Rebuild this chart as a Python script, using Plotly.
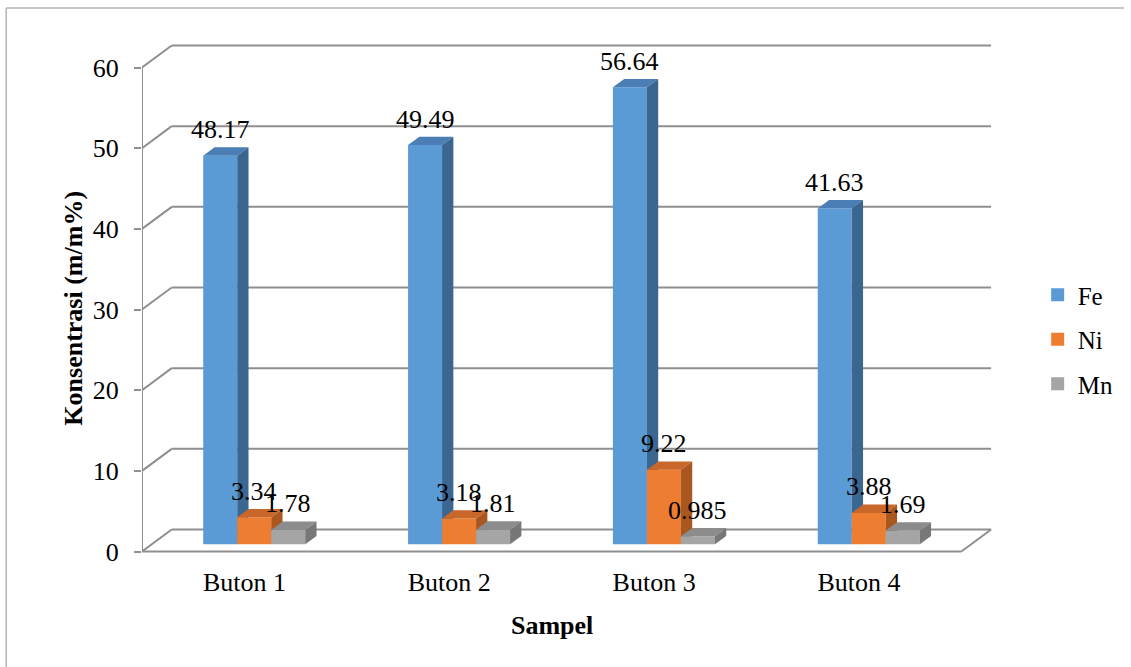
import plotly.graph_objects as go

# ---- data ----
categories = ["Buton 1", "Buton 2", "Buton 3", "Buton 4"]
fe = [48.17, 49.49, 56.64, 41.63]
ni = [3.34, 3.18, 9.22, 3.88]
mn = [1.78, 1.81, 0.985, 1.69]
series_names = ["Fe", "Ni", "Mn"]
y_ticks = [0, 10, 20, 30, 40, 50, 60]

# face colours per series: front, top, side
front_colors = ["#5b9bd5", "#ed7d31", "#a5a5a5"]
top_colors = ["#4a7eb4", "#c9672a", "#8c8c8c"]
side_colors = ["#3b6690", "#a9561f", "#777777"]

# ---- page / plot geometry (pixels) ----
W, H = 1131, 667
L, R, T, B = 142, 1010, 30, 560
Y0_PX, YTOP_PX = 551.5, 67.5          # where 0 and 60 sit on the front axis
py = (Y0_PX - YTOP_PX) / 60.0          # px per value unit
px = (969 - 142) / 4.0                 # px per category
x0 = -0.5
x1 = x0 + len(categories)
ymin = -(B - Y0_PX) / py
ymax = (Y0_PX - T) / py
xmax = x0 + (R - L) / px

# oblique depth of the walls, in data units
DX = 30.0 / px
DY = 22.0 / py
F0 = 0.33      # depth fraction of bar front plane
FD = 0.38      # depth fraction of bar thickness
BW = 0.166     # bar width (category units)

LINE = "#8f8f8f"
FONT = "Liberation Serif, Times New Roman, serif"

fig = go.Figure()

values = [fe, ni, mn]
for k, vals in enumerate(values):
    fx, fy, tx, ty, sx, sy = [], [], [], [], [], []
    for i, v in enumerate(vals):
        xl = i + F0 * DX + (k - 1.5) * BW
        xr = xl + BW
        yb = F0 * DY
        yt = yb + v
        ddx, ddy = FD * DX, FD * DY
        fx += [xl, xr, xr, xl, xl, None]
        fy += [yb, yb, yt, yt, yb, None]
        tx += [xl, xr, xr + ddx, xl + ddx, xl, None]
        ty += [yt, yt, yt + ddy, yt + ddy, yt, None]
        sx += [xr, xr + ddx, xr + ddx, xr, xr, None]
        sy += [yb, yb + ddy, yt + ddy, yt, yb, None]
    for xs, ys, col in ((fx, fy, front_colors[k]), (tx, ty, top_colors[k]), (sx, sy, side_colors[k])):
        fig.add_trace(go.Scatter(
            x=xs, y=ys, mode="lines", fill="toself", fillcolor=col,
            line=dict(width=0, color=col), hoverinfo="skip", showlegend=False))

# legend entries
for k, name in enumerate(series_names):
    fig.add_trace(go.Scatter(
        x=[None], y=[None], mode="markers", name=name, legendgroup=name,
        marker=dict(symbol="square", size=13, color=front_colors[k])))

# value labels
annotations = []
for k, vals in enumerate(values):
    for i, v in enumerate(vals):
        annotations.append(dict(
            x=i + F0 * DX + (k - 1) * BW, y=F0 * DY + v, xref="x", yref="y",
            text=f"{v:g}", showarrow=False, yshift=26,
            font=dict(family=FONT, size=26, color="black")))

# axis titles
annotations.append(dict(
    x=(72 - L) / (R - L), y=(B - 308) / (B - T), xref="paper", yref="paper",
    text="<b>Konsentrasi (m/m%)</b>", textangle=-90, showarrow=False,
    xanchor="center", yanchor="middle", font=dict(family=FONT, size=26, color="black")))
annotations.append(dict(
    x=(556 - L) / (R - L), y=(B - 625) / (B - T), xref="paper", yref="paper",
    text="<b>Sampel</b>", showarrow=False, xanchor="center", yanchor="middle",
    font=dict(family=FONT, size=26, color="black")))

# walls, floor and the front value axis
shapes = []
ln = dict(color=LINE, width=2)
for v in y_ticks:
    shapes.append(dict(type="line", xref="x", yref="y", x0=x0 + DX, y0=v + DY,
                       x1=x1 + DX, y1=v + DY, line=ln, layer="below"))
    shapes.append(dict(type="line", xref="x", yref="y", x0=x0, y0=v,
                       x1=x0 + DX, y1=v + DY, line=ln, layer="below"))
shapes.append(dict(type="line", xref="x", yref="y", x0=x0, y0=0, x1=x0, y1=y_ticks[-1],
                   line=ln, layer="below"))
shapes.append(dict(type="line", xref="x", yref="y", x0=x0, y0=0, x1=x1, y1=0,
                   line=ln, layer="below"))
shapes.append(dict(type="line", xref="x", yref="y", x0=x1, y0=0, x1=x1 + DX, y1=DY,
                   line=ln, layer="below"))


def pxx(p):
    return (p - L) / (R - L)


def pxy(p):
    return (B - p) / (B - T)


# chart frame
frame = dict(color="#b4b4b4", width=1.5)
shapes.append(dict(type="line", xref="paper", yref="paper", x0=pxx(5), y0=pxy(8),
                   x1=pxx(5), y1=pxy(H + 2), line=frame))
shapes.append(dict(type="line", xref="paper", yref="paper", x0=pxx(5), y0=pxy(8),
                   x1=pxx(W + 2), y1=pxy(8), line=frame))

fig.update_layout(
    width=W, height=H,
    margin=dict(l=L, r=W - R, t=T, b=H - B, pad=0),
    plot_bgcolor="white", paper_bgcolor="white",
    font=dict(family=FONT, size=26, color="black"),
    shapes=shapes, annotations=annotations,
    showlegend=True,
    legend=dict(x=pxx(1046), y=pxy(272), xanchor="left", yanchor="top",
                font=dict(family=FONT, size=25, color="black"),
                tracegroupgap=9, itemclick=False, bgcolor="rgba(0,0,0,0)"),
    xaxis=dict(range=[x0, xmax], tickvals=list(range(len(categories))), ticktext=categories,
               showgrid=False, zeroline=False, showline=False, ticks="",
               ticklabelstandoff=4, tickfont=dict(family=FONT, size=26), fixedrange=True),
    yaxis=dict(range=[ymin, ymax], tickvals=y_ticks, showgrid=False, zeroline=False,
               showline=False, ticks="outside", ticklen=7, tickwidth=2, tickcolor=LINE,
               ticklabelstandoff=10, tickfont=dict(family=FONT, size=26), fixedrange=True),
)

fig.write_html("out.html")
